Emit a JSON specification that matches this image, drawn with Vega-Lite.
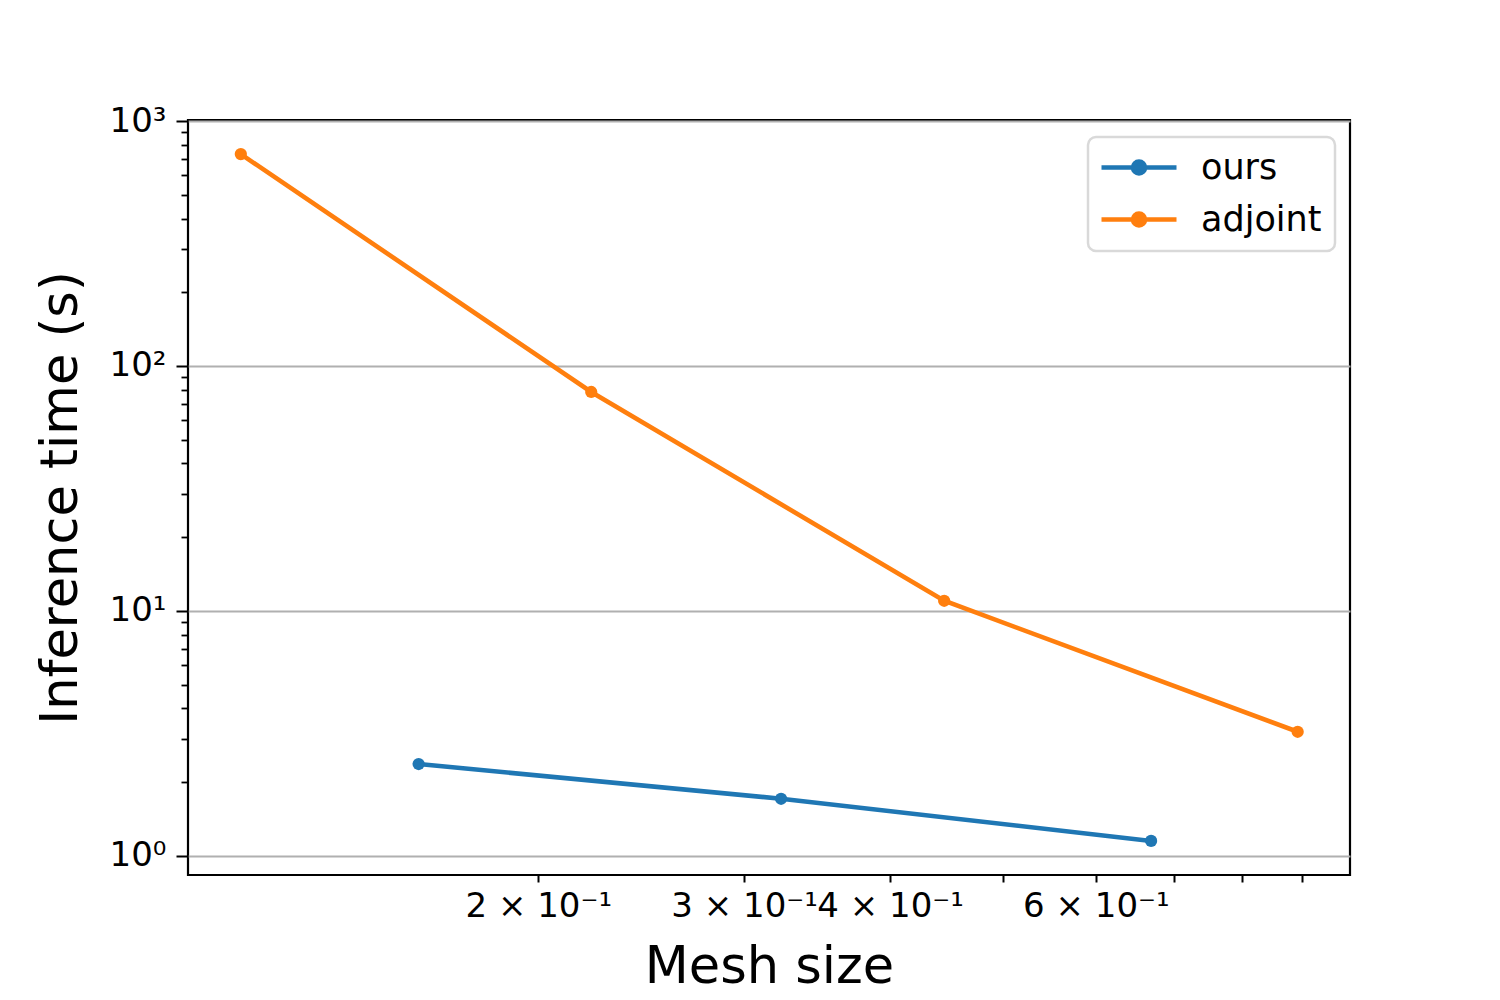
{
  "$schema": "https://vega.github.io/schema/vega-lite/v6.json",
  "width": 1162,
  "height": 755,
  "autosize": {"type": "none"},
  "padding": {"left": 188, "top": 120, "right": 150, "bottom": 125},
  "background": "white",
  "config": {
    "font": "DejaVu Sans",
    "view": {"stroke": "black", "strokeWidth": 2.2},
    "axis": {
      "labelFont": "DejaVu Sans",
      "titleFont": "DejaVu Sans",
      "labelColor": "black",
      "titleColor": "black",
      "tickColor": "black",
      "titleFontWeight": "normal",
      "labelOverlap": false,
      "labelBound": false,
      "labelFlush": false,
      "domain": false
    }
  },
  "data": {
    "values": [
      {"method": "ours", "mesh": 0.158, "time": 2.37},
      {"method": "ours", "mesh": 0.3227, "time": 1.71},
      {"method": "ours", "mesh": 0.669, "time": 1.15},
      {"method": "adjoint", "mesh": 0.1113, "time": 733},
      {"method": "adjoint", "mesh": 0.222, "time": 78.3},
      {"method": "adjoint", "mesh": 0.445, "time": 11.0},
      {"method": "adjoint", "mesh": 0.893, "time": 3.21}
    ]
  },
  "resolve": {"axis": {"y": "independent"}},
  "layer": [
    {
      "mark": {"type": "line", "strokeWidth": 4.6},
      "encoding": {
        "x": {
          "field": "mesh",
          "type": "quantitative",
          "scale": {"type": "log", "domain": [0.1003, 0.99], "nice": false, "zero": false},
          "axis": {
            "values": [0.2, 0.3, 0.4, 0.5, 0.6, 0.7, 0.8, 0.9],
            "labelExpr": "datum.value < 0.25 ? '2 × 10⁻¹' : datum.value < 0.35 ? '3 × 10⁻¹' : datum.value < 0.45 ? '4 × 10⁻¹' : (datum.value > 0.55 && datum.value < 0.65) ? '6 × 10⁻¹' : ''",
            "tickSize": 7,
            "tickWidth": 2,
            "grid": false,
            "labelFontSize": 34,
            "labelPadding": 7,
            "title": "Mesh size",
            "titleFontSize": 51,
            "titlePadding": 19
          }
        },
        "y": {
          "field": "time",
          "type": "quantitative",
          "scale": {"type": "log", "domain": [0.835, 1010], "nice": false, "zero": false},
          "axis": {
            "orient": "left",
            "values": [1, 10, 100, 1000],
            "labelExpr": "datum.value < 5 ? '10⁰' : datum.value < 50 ? '10¹' : datum.value < 500 ? '10²' : '10³'",
            "tickSize": 12,
            "tickWidth": 2,
            "grid": true,
            "gridColor": "#b0b0b0",
            "gridWidth": 2.2,
            "labelFontSize": 34,
            "labelPadding": 10,
            "title": "Inference time (s)",
            "titleFontSize": 51,
            "titlePadding": 22
          }
        },
        "color": {
          "field": "method",
          "type": "nominal",
          "scale": {"domain": ["ours", "adjoint"], "range": ["#1f77b4", "#ff7f0e"]},
          "legend": {
            "title": null,
            "orient": "none",
            "legendX": 900,
            "legendY": 17,
            "padding": 13,
            "fillColor": "white",
            "strokeColor": "#d9d9d9",
            "cornerRadius": 8,
            "labelFontSize": 35,
            "labelFont": "DejaVu Sans",
            "labelColor": "black",
            "labelOffset": 65,
            "rowPadding": 16,
            "symbolType": "M-3.4,0L11.6,0M5.3,0A1.2,1.2,0,1,1,2.9,0A1.2,1.2,0,1,1,5.3,0Z",
            "symbolSize": 100,
            "symbolStrokeWidth": 4.6,
            "encode": {
              "legend": {"update": {"strokeWidth": {"value": 2.5}}},
              "symbols": {
                "update": {
                  "fill": {"scale": "color", "field": "value"},
                  "stroke": {"scale": "color", "field": "value"},
                  "fillOpacity": {"value": 1},
                  "opacity": {"value": 1},
                  "strokeWidth": {"value": 4.6}
                }
              }
            }
          }
        }
      }
    },
    {
      "mark": {"type": "point", "filled": true, "size": 150, "opacity": 1},
      "encoding": {
        "x": {"field": "mesh", "type": "quantitative"},
        "y": {
          "field": "time",
          "type": "quantitative",
          "axis": {
            "orient": "left",
            "values": [2, 3, 4, 5, 6, 7, 8, 9, 20, 30, 40, 50, 60, 70, 80, 90, 200, 300, 400, 500, 600, 700, 800, 900],
            "tickSize": 7,
            "tickWidth": 1.8,
            "labels": false,
            "grid": false,
            "title": null
          }
        },
        "color": {"field": "method", "type": "nominal"}
      }
    }
  ]
}
